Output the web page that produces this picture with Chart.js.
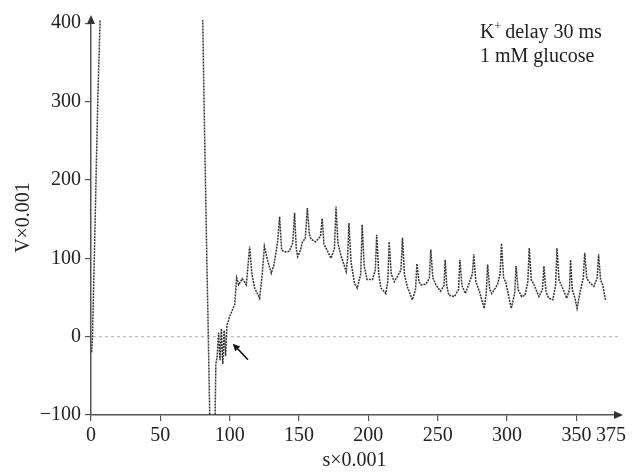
<!DOCTYPE html>
<html>
<head>
<meta charset="utf-8">
<script src="https://cdn.jsdelivr.net/npm/chart.js@4/dist/chart.umd.min.js"></script>
<style>
  html, body { margin: 0; padding: 0; background: #fff; }
  #wrap { width: 635px; height: 472px; position: relative; }
</style>
</head>
<body>
<div id="wrap"><canvas id="c"></canvas></div>
<script>
// time axis (s×0.001) and membrane signal (V×0.001)
const timeValues = [
  0.5, 1, 2, 3, 4, 5, 6.5, 7.5, 40, 78,
  80.6, 81.5, 82.5, 83.5, 84.6, 85.6, 86.2, 88.5, 89.5, 90,
  91, 92, 93, 94, 95, 96, 97, 98, 99, 100,
  101.5, 103.6, 105, 106.5, 109, 112, 114.4, 116, 118, 121.6,
  123.5, 125, 127.5, 130, 132, 134.5, 136, 137.5, 140.5, 143,
  145.5, 146.8, 148, 149, 151, 152.5, 154.5, 156, 157.5, 158.8,
  162, 165.5, 166.7, 168, 170.6, 173, 175.5, 176.7, 178, 180,
  184, 185, 186, 187.5, 190, 192, 194.5, 195.5, 197, 199,
  203, 205, 206, 207.5, 209, 212.6, 214, 215, 216.5, 218.7,
  221, 223.5, 224.6, 226, 228, 231.7, 234, 235, 236.5, 238,
  241.5, 244, 245, 246.5, 248.7, 252, 254.5, 255.4, 256.5, 258,
  262, 265, 266, 267.5, 270, 273, 275, 276, 277.5, 280,
  283.5, 285, 286, 287.5, 289, 293, 295, 296, 297.5, 299,
  303, 305.5, 306.5, 308, 310.5, 313, 315, 316, 317.5, 319,
  323, 325.5, 326.6, 328, 330, 333, 335, 336, 337.5, 339.6,
  343, 345, 345.8, 347, 349, 350.5, 353, 355, 356, 357.5,
  359, 362.6, 365, 366, 367.5, 369, 371
];
const voltageValues = [
  -20, -2, 70, 150, 230, 310, 400, 470, 520, 470,
  400, 300, 200, 100, 0, -100, -140, -140, -100, -35,
  -25, 5, -30, 10, -35, 8, -25, 15, 20, 26,
  32, 41, 75, 66, 74, 66, 115, 80, 62, 49,
  80, 115, 96, 81, 92, 120, 153, 110, 108, 109,
  120, 158, 112, 102, 110, 121, 125, 164, 130, 124,
  121, 128, 151, 118, 109, 100, 112, 166, 120, 105,
  83, 100, 145, 95, 68, 62, 80, 143, 90, 73,
  73, 85, 130, 80, 62, 55, 70, 121, 80, 70,
  77, 85, 126, 80, 64, 47, 60, 93, 70, 66,
  67, 75, 111, 75, 66, 58, 65, 98, 65, 53,
  51, 60, 98, 65, 55, 70, 80, 105, 70, 58,
  36, 55, 92, 60, 55, 66, 80, 119, 75, 70,
  36, 55, 90, 60, 51, 53, 70, 113, 72, 68,
  51, 60, 90, 58, 49, 47, 65, 113, 72, 64,
  49, 60, 98, 60, 49, 36, 60, 75, 107, 75,
  70, 64, 75, 105, 72, 66, 47
];
const xTickValues = [0, 50, 100, 150, 200, 250, 300, 350, 375];
const yTickValues = [-100, 0, 100, 200, 300, 400];
const annotationLines = ['delay 30 ms', '1 mM glucose'];
const xTitle = 's×0.001';
const yTitle = 'V×0.001';

const FONT = 'Liberation Serif';
const points = timeValues.map((t, i) => ({ x: t, y: voltageValues[i] }));

const extras = {
  id: 'extras',
  beforeDatasetsDraw(chart) {
    const { ctx, chartArea, scales } = chart;
    const y0 = scales.y.getPixelForValue(0);
    ctx.save();
    ctx.strokeStyle = '#bdbdbd';
    ctx.lineWidth = 1.2;
    ctx.setLineDash([3, 3]);
    ctx.beginPath();
    ctx.moveTo(chartArea.left + 2, y0);
    ctx.lineTo(chartArea.right, y0);
    ctx.stroke();
    ctx.restore();
  },
  afterDraw(chart) {
    const { ctx, chartArea, scales } = chart;
    const xs = scales.x, ys = scales.y;
    ctx.save();
    // axis arrow heads
    ctx.fillStyle = '#333';
    const ax = chartArea.left;
    ctx.beginPath();
    ctx.moveTo(ax, chartArea.top - 5);
    ctx.lineTo(ax - 4, chartArea.top + 4);
    ctx.lineTo(ax + 4, chartArea.top + 4);
    ctx.closePath();
    ctx.fill();
    const ay = chartArea.bottom;
    ctx.beginPath();
    ctx.moveTo(chartArea.right + 5, ay);
    ctx.lineTo(chartArea.right - 4, ay - 4);
    ctx.lineTo(chartArea.right - 4, ay + 4);
    ctx.closePath();
    ctx.fill();

    // annotation text
    const tx = xs.getPixelForValue(280.5);
    const ty1 = ys.getPixelForValue(381);
    ctx.fillStyle = '#222';
    ctx.textAlign = 'left';
    ctx.textBaseline = 'alphabetic';
    ctx.font = '20px "' + FONT + '"';
    ctx.fillText('K', tx, ty1);
    const kw = ctx.measureText('K').width;
    ctx.font = '12px "' + FONT + '"';
    ctx.fillText('+', tx + kw, ty1 - 8);
    const pw = ctx.measureText('+').width;
    ctx.font = '20px "' + FONT + '"';
    ctx.fillText(' ' + annotationLines[0], tx + kw + pw - 1, ty1);
    ctx.fillText(annotationLines[1], tx, ty1 + 24);

    // pointer arrow near the trace
    const hx = xs.getPixelForValue(102.2), hy = ys.getPixelForValue(-9);
    const tx2 = xs.getPixelForValue(113.2), ty2 = ys.getPixelForValue(-29.5);
    ctx.strokeStyle = '#111';
    ctx.fillStyle = '#111';
    ctx.lineWidth = 1.6;
    ctx.beginPath();
    ctx.moveTo(tx2, ty2);
    ctx.lineTo(hx + 3, hy + 3);
    ctx.stroke();
    const ang = Math.atan2(hy - ty2, hx - tx2);
    ctx.beginPath();
    ctx.moveTo(hx, hy);
    ctx.lineTo(hx - 8 * Math.cos(ang - 0.45), hy - 8 * Math.sin(ang - 0.45));
    ctx.lineTo(hx - 8 * Math.cos(ang + 0.45), hy - 8 * Math.sin(ang + 0.45));
    ctx.closePath();
    ctx.fill();
    ctx.restore();
  }
};

new Chart(document.getElementById('c'), {
  type: 'line',
  data: {
    datasets: [{
      data: points,
      borderColor: '#333',
      borderWidth: 1.5,
      borderDash: [2, 1],
      pointRadius: 0,
      tension: 0,
      fill: false
    }]
  },
  options: {
    responsive: true,
    maintainAspectRatio: false,
    animation: false,
    layout: { padding: { top: 20, right: 17, left: 0, bottom: 0 } },
    plugins: { legend: { display: false }, tooltip: { enabled: false } },
    scales: {
      x: {
        type: 'linear',
        min: 0,
        max: 380,
        afterBuildTicks(scale) { scale.ticks = xTickValues.map(v => ({ value: v })); },
        afterFit(scale) { scale.height = 57; },
        border: { display: true, color: '#555', width: 1.5 },
        grid: {
          drawOnChartArea: false,
          drawTicks: true,
          tickLength: 6,
          color: (c) => (c.tick && c.tick.value === 375 ? 'rgba(0,0,0,0)' : '#555'),
          lineWidth: 1.2
        },
        ticks: {
          color: '#222',
          font: { family: FONT, size: 20 },
          padding: 3,
          maxRotation: 0,
          autoSkip: false,
          callback: (v) => String(v)
        },
        title: {
          display: true,
          text: xTitle,
          color: '#222',
          font: { family: FONT, size: 20 },
          padding: { top: 0, bottom: -1 }
        }
      },
      y: {
        type: 'linear',
        min: -100,
        max: 404,
        afterBuildTicks(scale) { scale.ticks = yTickValues.map(v => ({ value: v })); },
        afterFit(scale) { scale.width = 91; },
        border: { display: true, color: '#555', width: 1.5 },
        grid: {
          drawOnChartArea: false,
          drawTicks: true,
          tickLength: 6,
          color: '#555',
          lineWidth: 1.2
        },
        ticks: {
          color: '#222',
          font: { family: FONT, size: 20 },
          padding: 4,
          autoSkip: false,
          callback: (v) => String(v).replace('-', '\u2212')
        },
        title: {
          display: true,
          text: yTitle,
          color: '#222',
          font: { family: FONT, size: 20 },
          padding: { top: 12, bottom: 0 }
        }
      }
    }
  },
  plugins: [extras]
});
</script>
</body>
</html>
